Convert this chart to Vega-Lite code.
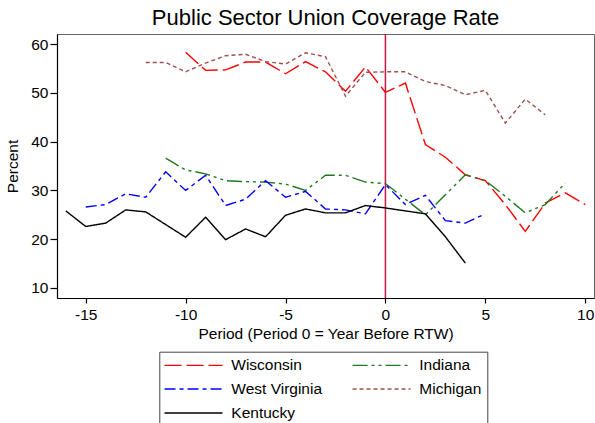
{
  "$schema": "https://vega.github.io/schema/vega-lite/v6.json",
  "width": 537,
  "height": 264,
  "autosize": {"type": "none"},
  "padding": {"left": 57, "top": 34, "right": 1, "bottom": 125},
  "background": "white",
  "config": {
    "font": "Liberation Sans",
    "view": {"stroke": "#666", "strokeWidth": 1},
    "axis": {
      "domainColor": "#000", "tickColor": "#000", "labelColor": "#000", "titleColor": "#000",
      "grid": false, "labelFontSize": 15.5, "titleFontSize": 15.5, "titleFontWeight": "normal",
      "labelFont": "Liberation Sans", "titleFont": "Liberation Sans", "domainWidth": 1.2, "tickWidth": 1.2
    }
  },
  "title": {
    "text": "Public Sector Union Coverage Rate",
    "fontSize": 22, "fontWeight": "normal", "color": "#000", "font": "Liberation Sans",
    "anchor": "middle", "offset": 3
  },
  "datasets": {
    "rows": [
      {"state": "Wisconsin", "period": -10, "rate": 58.3},
      {"state": "Wisconsin", "period": -9, "rate": 54.6},
      {"state": "Wisconsin", "period": -8, "rate": 54.7},
      {"state": "Wisconsin", "period": -7, "rate": 56.3},
      {"state": "Wisconsin", "period": -6, "rate": 56.3},
      {"state": "Wisconsin", "period": -5, "rate": 53.9},
      {"state": "Wisconsin", "period": -4, "rate": 56.4},
      {"state": "Wisconsin", "period": -3, "rate": 54.3},
      {"state": "Wisconsin", "period": -2, "rate": 50.3},
      {"state": "Wisconsin", "period": -1, "rate": 55.3},
      {"state": "Wisconsin", "period": 0, "rate": 50.1},
      {"state": "Wisconsin", "period": 1, "rate": 52.0},
      {"state": "Wisconsin", "period": 2, "rate": 39.4},
      {"state": "Wisconsin", "period": 3, "rate": 36.8},
      {"state": "Wisconsin", "period": 4, "rate": 33.2},
      {"state": "Wisconsin", "period": 5, "rate": 32.0},
      {"state": "Wisconsin", "period": 6, "rate": 27.1},
      {"state": "Wisconsin", "period": 7, "rate": 21.6},
      {"state": "Wisconsin", "period": 8, "rate": 27.4},
      {"state": "Wisconsin", "period": 9, "rate": 29.5},
      {"state": "Wisconsin", "period": 10, "rate": 27.1},
      {"state": "Indiana", "period": -11, "rate": 36.6},
      {"state": "Indiana", "period": -10, "rate": 34.2},
      {"state": "Indiana", "period": -9, "rate": 33.4},
      {"state": "Indiana", "period": -8, "rate": 32.0},
      {"state": "Indiana", "period": -7, "rate": 31.8},
      {"state": "Indiana", "period": -6, "rate": 31.7},
      {"state": "Indiana", "period": -5, "rate": 31.3},
      {"state": "Indiana", "period": -4, "rate": 30.0},
      {"state": "Indiana", "period": -3, "rate": 33.1},
      {"state": "Indiana", "period": -2, "rate": 33.1},
      {"state": "Indiana", "period": -1, "rate": 31.7},
      {"state": "Indiana", "period": 0, "rate": 31.4},
      {"state": "Indiana", "period": 1, "rate": 28.2},
      {"state": "Indiana", "period": 2, "rate": 25.0},
      {"state": "Indiana", "period": 3, "rate": 29.1},
      {"state": "Indiana", "period": 4, "rate": 33.2},
      {"state": "Indiana", "period": 5, "rate": 32.0},
      {"state": "Indiana", "period": 6, "rate": 28.8},
      {"state": "Indiana", "period": 7, "rate": 25.4},
      {"state": "Indiana", "period": 8, "rate": 27.1},
      {"state": "Indiana", "period": 9, "rate": 31.5},
      {"state": "West Virginia", "period": -15, "rate": 26.6},
      {"state": "West Virginia", "period": -14, "rate": 27.1},
      {"state": "West Virginia", "period": -13, "rate": 29.3},
      {"state": "West Virginia", "period": -12, "rate": 28.6},
      {"state": "West Virginia", "period": -11, "rate": 33.8},
      {"state": "West Virginia", "period": -10, "rate": 30.0},
      {"state": "West Virginia", "period": -9, "rate": 33.1},
      {"state": "West Virginia", "period": -8, "rate": 26.9},
      {"state": "West Virginia", "period": -7, "rate": 28.2},
      {"state": "West Virginia", "period": -6, "rate": 32.0},
      {"state": "West Virginia", "period": -5, "rate": 28.6},
      {"state": "West Virginia", "period": -4, "rate": 29.8},
      {"state": "West Virginia", "period": -3, "rate": 26.2},
      {"state": "West Virginia", "period": -2, "rate": 26.0},
      {"state": "West Virginia", "period": -1, "rate": 25.2},
      {"state": "West Virginia", "period": 0, "rate": 31.2},
      {"state": "West Virginia", "period": 1, "rate": 27.1},
      {"state": "West Virginia", "period": 2, "rate": 29.0},
      {"state": "West Virginia", "period": 3, "rate": 23.8},
      {"state": "West Virginia", "period": 4, "rate": 23.3},
      {"state": "West Virginia", "period": 5, "rate": 25.2},
      {"state": "Michigan", "period": -12, "rate": 56.2},
      {"state": "Michigan", "period": -11, "rate": 56.2},
      {"state": "Michigan", "period": -10, "rate": 54.3},
      {"state": "Michigan", "period": -9, "rate": 56.1},
      {"state": "Michigan", "period": -8, "rate": 57.6},
      {"state": "Michigan", "period": -7, "rate": 57.9},
      {"state": "Michigan", "period": -6, "rate": 56.4},
      {"state": "Michigan", "period": -5, "rate": 55.9},
      {"state": "Michigan", "period": -4, "rate": 58.2},
      {"state": "Michigan", "period": -3, "rate": 57.4},
      {"state": "Michigan", "period": -2, "rate": 49.3},
      {"state": "Michigan", "period": -1, "rate": 54.2},
      {"state": "Michigan", "period": 0, "rate": 54.3},
      {"state": "Michigan", "period": 1, "rate": 54.3},
      {"state": "Michigan", "period": 2, "rate": 52.3},
      {"state": "Michigan", "period": 3, "rate": 51.5},
      {"state": "Michigan", "period": 4, "rate": 49.6},
      {"state": "Michigan", "period": 5, "rate": 50.5},
      {"state": "Michigan", "period": 6, "rate": 43.8},
      {"state": "Michigan", "period": 7, "rate": 48.7},
      {"state": "Michigan", "period": 8, "rate": 45.5},
      {"state": "Kentucky", "period": -16, "rate": 25.8},
      {"state": "Kentucky", "period": -15, "rate": 22.6},
      {"state": "Kentucky", "period": -14, "rate": 23.3},
      {"state": "Kentucky", "period": -13, "rate": 26.0},
      {"state": "Kentucky", "period": -12, "rate": 25.6},
      {"state": "Kentucky", "period": -11, "rate": 23.0},
      {"state": "Kentucky", "period": -10, "rate": 20.4},
      {"state": "Kentucky", "period": -9, "rate": 24.5},
      {"state": "Kentucky", "period": -8, "rate": 19.9},
      {"state": "Kentucky", "period": -7, "rate": 22.1},
      {"state": "Kentucky", "period": -6, "rate": 20.5},
      {"state": "Kentucky", "period": -5, "rate": 24.9},
      {"state": "Kentucky", "period": -4, "rate": 26.2},
      {"state": "Kentucky", "period": -3, "rate": 25.4},
      {"state": "Kentucky", "period": -2, "rate": 25.4},
      {"state": "Kentucky", "period": -1, "rate": 26.9},
      {"state": "Kentucky", "period": 0, "rate": 26.4},
      {"state": "Kentucky", "period": 1, "rate": 25.8},
      {"state": "Kentucky", "period": 2, "rate": 25.2},
      {"state": "Kentucky", "period": 3, "rate": 20.5},
      {"state": "Kentucky", "period": 4, "rate": 15.1}
    ],
    "vline": [{"period": 0}]
  },
  "layer": [
    {
      "data": {"name": "vline"},
      "mark": {"type": "rule", "color": "#c8164a", "strokeWidth": 1.5},
      "encoding": {
        "x": {"field": "period", "type": "quantitative", "scale": {"domain": [-16.44, 10.44], "nice": false, "zero": false}}
      }
    },
    {
      "data": {"name": "rows"},
      "mark": {"type": "line", "strokeWidth": 1.4},
      "encoding": {
        "x": {
          "field": "period", "type": "quantitative",
          "scale": {"domain": [-16.44, 10.44], "nice": false, "zero": false},
          "axis": {"values": [-15, -10, -5, 0, 5, 10], "tickSize": 5, "labelPadding": 4, "labelExpr": "'' + datum.value", "title": "Period (Period 0 = Year Before RTW)", "titlePadding": 4}
        },
        "y": {
          "field": "rate", "type": "quantitative",
          "scale": {"domain": [7.95, 62.05], "nice": false, "zero": false},
          "axis": {"values": [10, 20, 30, 40, 50, 60], "tickSize": 7, "labelPadding": 2, "title": "Percent", "titlePadding": 10, "labelAngle": 0}
        },
        "color": {
          "field": "state", "type": "nominal",
          "scale": {"domain": ["Wisconsin", "West Virginia", "Kentucky", "Indiana", "Michigan"], "range": ["#ff0000", "#0000ff", "#000000", "#1f7a1f", "#a0504f"]},
          "legend": {
            "orient": "none", "legendX": 102.3, "legendY": 317.7, "columns": 2, "title": null,
            "symbolType": "M-2.67,0L16.67,0", "symbolSize": 36, "symbolStrokeWidth": 1.4,
            "labelFontSize": 15.5, "labelColor": "#000", "labelFont": "Liberation Sans", "labelOffset": 51, "labelLimit": 300,
            "padding": 5.5, "rowPadding": 7, "columnPadding": 26, "strokeColor": "#444", "fillColor": "white"
          }
        },
        "strokeDash": {
          "field": "state", "type": "nominal",
          "scale": {"domain": ["Wisconsin", "West Virginia", "Kentucky", "Indiana", "Michigan"], "range": [[17, 5], [11, 4, 4, 4], [1, 0], [15, 4, 3, 4, 3, 4], [4, 3]]}
        },
        "order": {"field": "period", "type": "quantitative"}
      }
    }
  ]
}
